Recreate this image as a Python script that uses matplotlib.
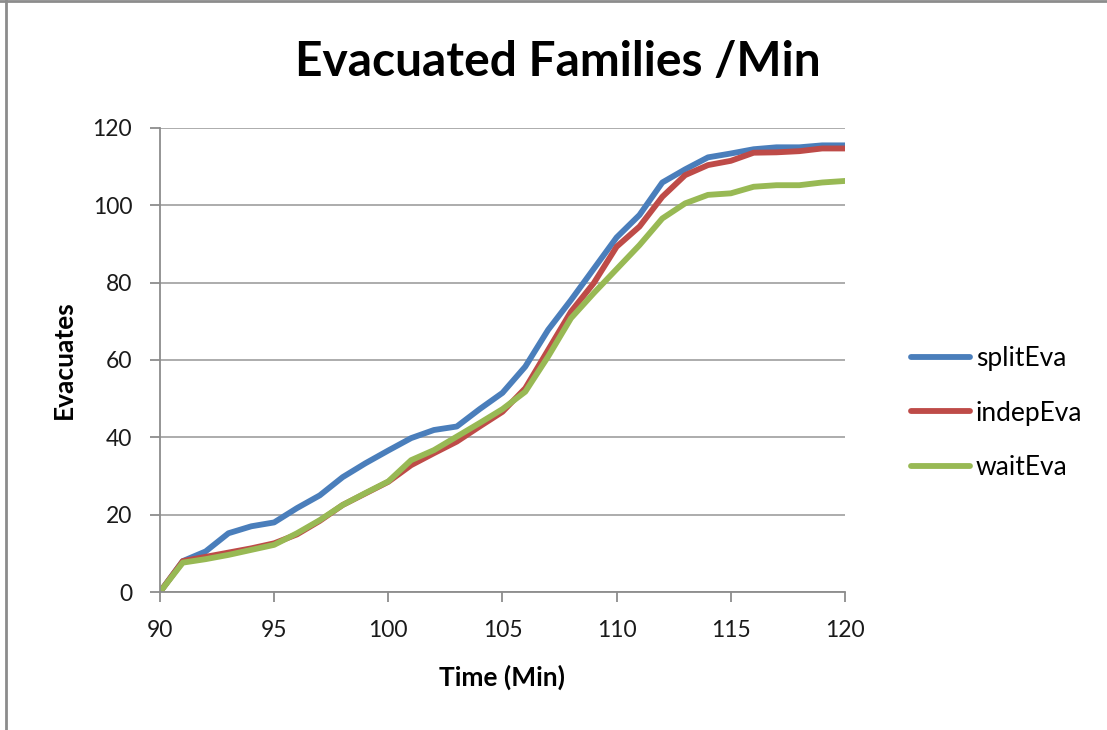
import matplotlib
matplotlib.use('Agg')
import matplotlib.pyplot as plt
from matplotlib.lines import Line2D

minutes = list(range(90, 121))
split_eva = [0, 8, 10.5, 15.2, 17, 18, 21.7, 25, 29.7, 33.3, 36.6,
             39.8, 41.9, 42.8, 47.3, 51.5, 58.3, 67.8, 75.5, 83.6, 91.7,
             97.5, 105.9, 109.3, 112.4, 113.4, 114.5, 115, 115, 115.5, 115.5]
indep_eva = [0, 8, 9.1, 10.2, 11.3, 12.6, 14.9, 18.4, 22.5, 25.5, 28.5,
             32.8, 35.9, 38.9, 42.8, 46.6, 52.7, 62.6, 72.5, 79.9, 89.3,
             94.5, 102.2, 107.8, 110.4, 111.5, 113.6, 113.7, 114, 114.7, 114.7]
wait_eva = [0, 7.6, 8.5, 9.6, 10.9, 12.2, 15.2, 18.6, 22.5, 25.6, 28.6,
            34.1, 36.7, 40.2, 43.7, 47.3, 51.8, 60.9, 70.8, 77.3, 83.5,
            89.7, 96.6, 100.5, 102.7, 103.1, 104.8, 105.2, 105.2, 105.9, 106.3]

names = ['splitEva', 'indepEva', 'waitEva']
colors = ['#4a7ebb', '#be4b48', '#98b954']

plt.rcParams['font.family'] = ['Lato', 'DejaVu Sans']

fig = plt.figure(figsize=(11.07, 7.3), dpi=100)
ax = fig.add_axes([0.1445, 0.189, 0.6188, 0.6357])

for ys, nm, c in zip([split_eva, indep_eva, wait_eva], names, colors):
    ax.plot(minutes, ys, color=c, linewidth=4.2, label=nm, solid_capstyle='round')

ax.set_xlim(90, 120)
ax.set_ylim(0, 120)
ax.set_xticks(range(90, 121, 5))
ax.set_yticks(range(0, 121, 20))
ax.grid(axis='y', color='#a6a6a6', linewidth=1.3)
ax.set_axisbelow(True)
for s in ['top', 'right']:
    ax.spines[s].set_visible(False)
for s in ['left', 'bottom']:
    ax.spines[s].set_color('#8c8c8c')
    ax.spines[s].set_linewidth(1.3)
ax.tick_params(axis='both', direction='out', length=7, width=1.3, color='#8c8c8c',
               labelsize=16.5, pad=13, labelcolor='#1a1a1a')

ax.set_xlabel('Time (Min)', fontsize=19, fontweight='bold', labelpad=17)
ax.set_ylabel('Evacuates', fontsize=19, fontweight='bold', labelpad=12)
fig.text(0.504, 0.915, 'Evacuated Families /Min', ha='center', va='center',
         fontsize=34.5, fontweight='bold')

handles, labels = ax.get_legend_handles_labels()
fig.legend(handles, labels, loc='center left', bbox_to_anchor=(0.823, 0.434),
           frameon=False, fontsize=19, handlelength=2.25, labelspacing=1.12,
           handletextpad=0.2, borderpad=0, borderaxespad=0)

# outer border like the original screenshot
fig.add_artist(Line2D([0.0058, 0.0058], [0, 1], color='#8c8c8c', linewidth=2,
                      transform=fig.transFigure))
fig.add_artist(Line2D([0, 1], [0.998, 0.998], color='#8c8c8c', linewidth=2,
                      transform=fig.transFigure))

fig.savefig('out.png', dpi=100)
